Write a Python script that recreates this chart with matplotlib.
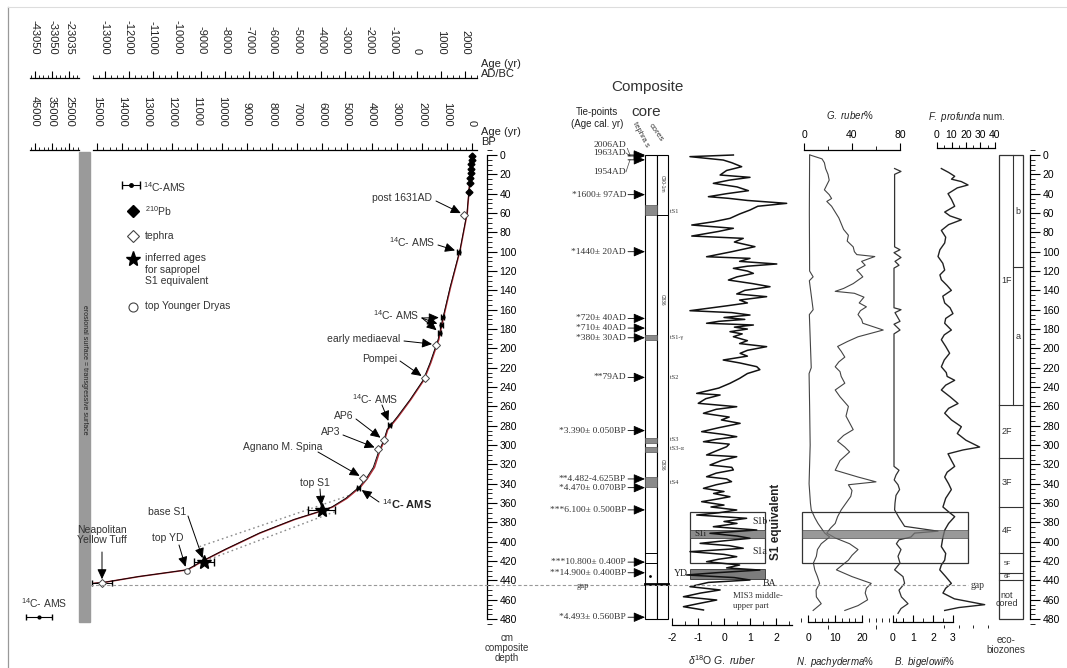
import matplotlib
matplotlib.use("Agg")
import matplotlib.pyplot as plt
from matplotlib.patches import Rectangle
from matplotlib.ticker import MultipleLocator, FixedLocator

plt.rcParams["font.family"] = ["Liberation Sans", "DejaVu Sans"]
plt.rcParams["axes.unicode_minus"] = False
plt.rcParams["mathtext.fontset"] = "custom"
plt.rcParams["mathtext.rm"] = "Liberation Sans"
plt.rcParams["mathtext.it"] = "Liberation Sans:italic"

W, H = 1067, 668
Y0, SCALE = 155.0, 0.967   # depth 0 cm at y=155 px, px per cm
SERIF = ["Liberation Serif", "DejaVu Serif"]

# ---------------- age-depth model (age BP, composite depth cm) ----------------
curve_age = [0, 200, 480, 880, 1160, 1360, 1680, 1960, 2480, 3000, 3400, 3530, 3740, 3950,
             4220, 4500, 5050, 5610, 6020, 7130, 8510, 9890, 10720, 11410, 13350, 14730, 15150]
red_age = [0, 190, 470, 860, 1140, 1330, 1650, 1930, 2450, 2960, 3370, 3500, 3700, 3900,
           4170, 4450, 5000, 5570, 6000, 7100, 8480, 9860, 10700, 11380, 13330, 14720, 15150]
curve_depth = [0, 60, 98, 137, 168, 191, 215, 233, 253, 271, 284, 295, 307, 323,
               334, 343, 355, 364, 368, 377, 391, 408, 419, 429, 436, 442, 443]
env_upper_age = [10900, 4900]
env_upper_depth = [405, 352]
env_lower_age = [10500, 5400]
env_lower_depth = [418, 368]

pb_age = [0, 10, 20, 35, 50, 65, 80, 100]
pb_depth = [1, 5, 9, 14, 19, 24, 29, 38]
tephra_age = [300, 1430, 1880, 3530, 3740, 4350, 14800]
tephra_depth = [62, 196, 231, 295, 304, 334, 443]
c14_age = [520, 1160, 1230, 1290, 3280, 4550]
c14_depth = [100, 168, 176, 184, 279, 344]
c14_err = [60, 60, 60, 60, 60, 70]
s1_age = [6020, 10720]
s1_depth = [367, 421]
s1_err = [550, 400]
yd_age = [11410]
yd_depth = [430]
nyt_age = [14800]
nyt_depth = [443]
nyt_err = [400]
gap_depth = 445

# ---------------- composite core ----------------
tie_labels = ["2006AD", "1963AD", "1954AD", "*1600\u00b1 97AD", "*1440\u00b1 20AD",
              "*720\u00b1 40AD", "*710\u00b1 40AD", "*380\u00b1 30AD", "**79AD",
              "*3.390\u00b1 0.050BP", "**4.482-4.625BP", "*4.470\u00b1 0.070BP",
              "***6.100\u00b1 0.500BP", "***10.800\u00b1 0.400P", "**14.900\u00b1 0.400BP",
              "*4.493\u00b1 0.560BP"]
tie_depth = [0, 1, 5, 41, 100, 169, 179, 189, 230, 285, 335, 344, 367, 421, 432, 478]
tephra_band_top = [52, 186, 293, 302, 333]
tephra_band_bottom = [62, 191, 298, 307, 343]
tephra_names = ["tS1", "tS1-\u03b3", "tS2", "tS3", "tS3-\u03b1", "tS4"]
tephra_name_depth = [58, 189, 230, 294, 304, 339]

# ---------------- proxy records (depth cm, value) ----------------
o18_depth = [0, 1.7, 5.2, 8, 12.1, 16, 20.7, 23.1, 26, 29.3,
             33, 36.9, 40, 43.1, 44.8, 47, 50, 53, 56.9, 61,
             65.5, 69, 72.4, 75.8, 79, 83.8, 86.2, 90, 94.8, 100,
             105.2, 106.9, 110, 112.7, 115, 117.2, 120, 122.4, 126, 129.3,
             133, 136.2, 140, 143.7, 146.5, 150, 153, 156, 161, 163,
             165.5, 168, 170, 172, 174, 175.8, 178, 180, 182.7, 185,
             187.9, 192, 195, 198.2, 202, 205.1, 208, 212, 215, 218.9,
             222, 226, 231, 236.1, 241, 246.5, 248.2, 252, 256.8, 260.3,
             263, 267.1, 271, 274, 277.5, 282, 286.1, 289, 291.3, 294,
             296.5, 299, 301.7, 306, 310.2, 312, 316, 320.6, 323, 325.7,
             329, 332.7, 335, 337.8, 341, 344.7, 348, 350, 353.4, 356,
             358.5, 362, 364, 367.1, 370, 372.3, 375.7, 379, 381, 384.4,
             387.8, 391.2, 394, 396.4, 399, 401.6, 404, 406.7, 410.2, 413,
             415.4, 418, 420.6, 424, 427, 429.2, 432, 434.3, 437, 439.5,
             442, 446.4, 449.8, 453, 456.8, 460.2, 464, 467.1, 470.5]
o18_value = [0.36, -1.31, -0.03, 0.3, 0.68, 0.1, -0.15, 1.0, 0.2, -0.41,
             0.5, 0.94, 0.1, -0.60, 0.17, 0.9, 2.41, 1.3, 1.0, 0.6,
             0.23, -0.4, -1.24, 0.36, -0.2, -1.24, 0.74, 0.4, 1.19, 0.3,
             -0.67, 1.0, 0.6, 2.03, 0.9, 0.36, 0.9, 1.13, 0.5, 0.17,
             1.1, 1.77, 0.8, 0.49, 1.64, 0.6, 0.9, 0.1, -1.31, 0.3,
             1.0, 0.0, 0.8, -0.2, -0.67, 1.13, 0.4, 0.9, 0.23, 0.7,
             0.36, 0.9, 0.6, 1.64, 0.9, 0.62, 0.9, -0.03, 0.6, 1.26,
             1.38, 0.9, 0.6, 0.23, -0.2, -1.05, -0.15, -0.7, -0.99, 0.49,
             -0.3, -0.79, 0.2, -0.1, 0.62, -0.2, -0.86, 0.0, 0.49, -0.3,
             -0.79, 0.2, 0.10, -0.3, -0.67, 0.49, -0.1, -0.54, 0.3, 0.36,
             -0.3, -0.67, 0.1, 0.29, -0.3, -0.79, 0.0, -0.4, 0.23, -0.3,
             -0.86, 0.0, -0.5, 0.49, -0.2, -1.05, 0.87, 0.0, 0.5, -0.41,
             1.26, -0.54, 0.5, 1.0, 0.0, -0.92, 0.2, 0.74, -1.31, 0.0,
             0.49, -0.2, -0.67, 0.6, 0.1, 1.38, -0.3, -1.44, 0.4, 1.0,
             -0.6, -1.31, -0.15, -0.9, -1.56, -0.28, -1.0, -1.56, -0.79]

gruber_depth = [0, 4, 8, 14, 20, 26, 31, 36, 41, 45,
                48, 53, 59, 65, 71, 77, 83, 89, 95, 100,
                103, 105, 110, 114, 119, 123, 126, 133, 138, 141,
                143, 147, 153, 157, 161, 165, 170, 174, 181, 188,
                193, 198, 203, 209, 214, 219, 224, 229, 236, 243,
                250, 260, 270, 284, 290, 296, 302, 307, 316, 326,
                333, 338, 341, 347, 353, 360, 367, 374, 381, 386,
                391, 396, 402, 408, 414, 419, 424, 429, 436, 443,
                448, 453, 460, 466, 471]
gruber_value = [5, 15, 17, 18, 20, 21, 19, 17, 21, 23,
                19, 23, 26, 29, 31, 33, 37, 36, 41, 42,
                44, 59, 48, 51, 44, 47, 49, 41, 33, 26,
                42, 50, 46, 52, 47, 45, 48, 49, 66, 45,
                36, 28, 31, 34, 29, 26, 30, 31, 34, 26,
                30, 37, 35, 41, 33, 28, 34, 38, 30, 26,
                45, 60, 37, 40, 39, 35, 31, 28, 26, 22,
                19, 26, 38, 45, 40, 37, 32, 27, 40, 56,
                52, 51, 53, 45, 34]

npachy_depth = [0, 60, 120, 126, 130, 160, 165, 220, 226, 260, 300, 340, 360, 367, 375,
                381, 391, 395, 402, 408, 415, 422, 429, 436, 443, 450, 457, 464, 471]
npachy_value = [0.6, 0.5, 0.6, 1.9, 0.5, 1.9, 0.5, 1.2, 0.4, 0.6, 0.8, 0.4, 0.9, 1.2, 2.5,
                3.7, 6.2, 8.0, 4.9, 3.5, 3.1, 2.0, 2.5, 3.5, 4.3, 3.0, 3.1, 4.9, 1.9]

bbig_depth = [14, 17, 20, 95, 98, 101, 106, 110, 114, 117,
              158, 160, 163, 172, 175, 181, 185, 322, 326, 331,
              336, 341, 346, 352, 360, 367, 375, 384, 389, 391,
              395, 398, 402, 408, 415, 422, 429, 436, 443, 450,
              457, 464, 469, 474]
bbig_value = [0.08, 0.4, 0.08, 0.08, 0.35, 0.05, 0.4, 0.1, 0.3, 0.05,
              0.05, 0.4, 0.1, 0.35, 0.05, 0.35, 0.05, 0.05, 0.3, 0.15,
              0.06, 0.25, 0.33, 0.15, 0.1, 0.08, 0.3, 0.58, 2.25, 1.08,
              0.9, 0.3, 0.17, 0.4, 0.25, 0.35, 0.08, 0.5, 0.58, 0.3,
              0.42, 0.75, 0.4, 0.25]

fprof_depth = [14, 18, 22, 25, 27.5, 31, 34, 40, 46, 53,
               59, 63, 67, 72, 78, 85, 91, 98, 105, 112,
               119, 124, 129, 135, 140, 146, 153, 158, 164, 169,
               174, 181, 186, 191, 198, 205, 212, 219, 225, 229,
               233, 238, 243, 250, 257, 262, 267, 274, 281, 288,
               295, 302, 305, 309, 316, 322, 328, 333, 340, 346,
               355, 364, 369, 374, 381, 388, 396, 405, 412, 419,
               424, 429, 436, 443, 448, 453, 459, 465, 468, 471]
fprof_value = [3, 8, 12.2, 10, 16.8, 21.4, 14, 7.6, 10, 12.2,
               5.3, 9, 16.8, 8, 3, 6, 5.3, 2, 0.7, 4,
               5.3, 2, 3, 7, 9.9, 4, 5.3, 9, 11, 6,
               5.3, 9.9, 5, 3, 6, 8.7, 5, 3, 6.4, 7,
               12.2, 6, 3, 9, 14.5, 8, 5.3, 10, 16.8, 14,
               20, 29.4, 18, 7.6, 10, 12.2, 7, 5.3, 8, 9.9,
               6, 4.1, 8, 12.2, 8, 5.3, 4, 3, 6, 5.3,
               3, 1.9, 6, 9.9, 6, 4.1, 12, 32.9, 15, 5.3]

# S1 sapropel equivalent and Younger Dryas intervals (depth cm)
s1_top, s1_bottom = 369, 422
s1i_top, s1i_bottom = 388, 396
yd_top, yd_bottom = 428, 438

# eco-biozones
eco_bounds = [0, 259, 313, 364, 412, 432, 440, 480]
eco_labels = ["1F", "2F", "3F", "4F", "5F", "6F", "not\ncored"]
sub_bounds = [0, 116, 259]
sub_labels = ["b", "a"]


def dy(d):
    return Y0 + SCALE * d


def px_axes(fig, x0, y0, x1, y1):
    return fig.add_axes([x0 / W, 1 - y1 / H, (x1 - x0) / W, (y1 - y0) / H])


def depth_axes(fig, x0, x1, v_ref, p_ref, px_per_unit, y0=148, y1=625):
    ax = px_axes(fig, x0, y0, x1, y1)
    ax.set_xlim(v_ref + (x0 - p_ref) / px_per_unit, v_ref + (x1 - p_ref) / px_per_unit)
    ax.set_ylim((y1 - Y0) / SCALE, (y0 - Y0) / SCALE)
    ax.patch.set_visible(False)
    for s in ax.spines.values():
        s.set_visible(False)
    ax.tick_params(bottom=False, labelbottom=False, left=False, labelleft=False)
    return ax


def scale_bar(fig, x0, x1, ybase, v_ref, p_ref, px_per_unit, major, labels, minor):
    ax = px_axes(fig, x0, ybase, x1, ybase + 10)
    ax.set_xlim(v_ref + (x0 - p_ref) / px_per_unit, v_ref + (x1 - p_ref) / px_per_unit)
    ax.patch.set_visible(False)
    for side in ["left", "right", "bottom"]:
        ax.spines[side].set_visible(False)
    ax.spines["top"].set_linewidth(0.9)
    ax.set_yticks([])
    ax.xaxis.tick_top()
    ax.set_xticks(major, labels=labels)
    ax.xaxis.set_minor_locator(FixedLocator(minor))
    ax.tick_params(axis="x", which="major", direction="out", length=5, width=0.8,
                   pad=12, labelsize=8, labelrotation=-90, labelcolor="#222")
    ax.tick_params(axis="x", which="minor", direction="out", length=2.5, width=0.6)
    return ax


def depth_scale(fig, x, y0=148, y1=625):
    ax = px_axes(fig, x - 1, y0, x, y1)
    ax.set_ylim((y1 - Y0) / SCALE, (y0 - Y0) / SCALE)
    ax.patch.set_visible(False)
    for side in ["left", "top", "bottom"]:
        ax.spines[side].set_visible(False)
    ax.spines["right"].set_bounds(0, 480)
    ax.spines["right"].set_linewidth(0.9)
    ax.set_xticks([])
    ax.yaxis.tick_right()
    ax.yaxis.set_major_locator(MultipleLocator(20))
    ax.yaxis.set_minor_locator(MultipleLocator(5))
    ax.tick_params(axis="y", which="major", direction="out", length=7, width=0.8,
                   pad=2, labelsize=7.5)
    ax.tick_params(axis="y", which="minor", direction="out", length=3.5, width=0.6)
    return ax


def main():
    fig = plt.figure(figsize=(W / 100, H / 100), dpi=100)
    fig.patch.set_facecolor("white")

    # ---- age scales on top ----
    scale_bar(fig, 93, 477, 78, -13000, 105, 0.024,
              list(range(-13000, 2001, 1000)), [str(v) for v in range(-13000, 2001, 1000)],
              list(range(-13500, 2501, 250)))
    scale_bar(fig, 30, 79, 78, -43050, 35, 0.0017,
              [-43050, -33050, -23035], ["-43050", "-33050", "-23035"],
              list(range(-45550, -17000, 2500)))
    scale_bar(fig, 93, 477, 150, 0, 472, -0.025,
              list(range(0, 15001, 1000)), [str(v) for v in range(0, 15001, 1000)],
              list(range(-250, 15250, 250)))
    scale_bar(fig, 30, 79, 150, 45000, 35, -0.0017,
              [45000, 35000, 25000], ["45000", "35000", "25000"],
              list(range(47500, 19000, -2500)))

    # ---- age-depth plot ----
    ax_ad = depth_axes(fig, 88, 487, 0, 472, -0.025, y0=150)
    ax_ad.plot(env_upper_age, env_upper_depth, ls=(0, (1.2, 2.2)), color="#8a8a8a", lw=1.0)
    ax_ad.plot(env_lower_age, env_lower_depth, ls=(0, (1.2, 2.2)), color="#8a8a8a", lw=1.0)
    ax_ad.plot(red_age, curve_depth, color="#b0303a", lw=1.1, zorder=2)
    ax_ad.plot(curve_age, curve_depth, color="k", lw=0.6, zorder=3)
    ax_ad.plot(pb_age, pb_depth, "D", ms=3.5, color="k", zorder=4)
    ax_ad.errorbar(c14_age, c14_depth, xerr=c14_err, fmt="o", ms=2, color="k",
                   elinewidth=0.7, capsize=2, zorder=4)
    ax_ad.errorbar(nyt_age, nyt_depth, xerr=nyt_err, fmt="none", ecolor="k",
                   elinewidth=0.7, capsize=2.5, zorder=4)
    ax_ad.plot(tephra_age, tephra_depth, "D", ms=4, mfc="white", mec="#444", mew=0.7, zorder=5)
    ax_ad.errorbar(s1_age, s1_depth, xerr=s1_err, fmt="*", ms=10, color="k",
                   elinewidth=0.8, capsize=3, zorder=5)
    ax_ad.plot(yd_age, yd_depth, "o", ms=4, mfc="white", mec="#444", mew=0.7, zorder=5)
    depth_scale(fig, 487)

    # ---- composite core ----
    ax_c = depth_axes(fig, 540, 690, 0, 0, 1)
    ax_c.add_patch(Rectangle((645, 0), 12, 480, fc="white", ec="k", lw=0.8))
    ax_c.add_patch(Rectangle((657, 0), 11, 480, fc="white", ec="k", lw=0.8))
    for t, b in zip(tephra_band_top, tephra_band_bottom):
        ax_c.add_patch(Rectangle((645, t), 12, b - t, fc="#8a8a8a", ec="#555", lw=0.5))
    ax_c.plot([657, 668], [62, 62], color="k", lw=0.7)
    ax_c.plot([645, 657], [412, 412], color="k", lw=0.7)
    ax_c.plot([645, 657], [422, 422], color="k", lw=0.7)
    ax_c.plot([650], [435], "o", ms=1, color="k")
    ax_c.plot([645, 668], [gap_depth - 1.5, gap_depth - 1.5], color="k", lw=2)
    for name, d in zip(tephra_names, tephra_name_depth):
        ax_c.text(670, d, name, fontsize=4.5, family=SERIF, va="center", color="#333")
    for txt, d in [("C90-1m", 30), ("C836", 150), ("C836", 320)]:
        ax_c.text(662.5, d, txt, fontsize=3.5, rotation=-90, ha="center", va="center", color="#333")
    text_shift = [-10, -3, 12] + [0] * (len(tie_depth) - 3)
    for lab, d, s in zip(tie_labels, tie_depth, text_shift):
        ax_c.annotate("", xy=(645, d), xytext=(628, d),
                      arrowprops=dict(arrowstyle="-|>,head_length=0.7,head_width=0.3",
                                      color="k", lw=0.6, shrinkA=0, shrinkB=0))
        ax_c.text(626, d + s / SCALE, lab, fontsize=6.8, family=SERIF, ha="right",
                  va="center", color="#333")
        if s != 0:
            ax_c.plot([626, 630], [d + s / SCALE, d], color="#444", lw=0.5)

    # ---- d18O G. ruber ----
    ax_o = depth_axes(fig, 660, 800, 0, 724, 26)
    ax_o.add_patch(Rectangle((-1.31, s1_top), 2.89, s1_bottom - s1_top, fill=False, ec="#333", lw=0.9, zorder=1))
    ax_o.add_patch(Rectangle((-1.31, s1i_top), 2.89, s1i_bottom - s1i_top, fc="#8c8c8c", ec="#444", lw=0.6, zorder=1))
    ax_o.add_patch(Rectangle((-1.31, yd_top), 2.89, yd_bottom - yd_top, fc="#7d7d7d", ec="#333", lw=0.6, zorder=1))
    ax_o.plot(o18_value, o18_depth, color="#111", lw=1.1, zorder=2)
    ax_o.spines["bottom"].set_visible(True)
    ax_o.spines["bottom"].set_bounds(-2, 2.6)
    ax_o.spines["bottom"].set_linewidth(0.9)
    ax_o.set_xticks([-2, -1, 0, 1, 2])
    ax_o.xaxis.set_minor_locator(MultipleLocator(0.5))
    ax_o.tick_params(axis="x", which="major", bottom=True, labelbottom=True, direction="in",
                     length=5, width=0.8, pad=6, labelsize=7.5)
    ax_o.tick_params(axis="x", which="minor", bottom=True, direction="in", length=3, width=0.6)

    # ---- G. ruber / N. pachyderma ----
    ax_g = depth_axes(fig, 798, 905, 0, 804, 1.2, y0=150)
    ax_g.plot(gruber_value, gruber_depth, color="#444", lw=0.8)
    ax_g.spines["top"].set_visible(True)
    ax_g.spines["top"].set_bounds(0, 80)
    ax_g.spines["top"].set_linewidth(0.9)
    ax_g.set_xticks([0, 40, 80])
    ax_g.xaxis.set_minor_locator(FixedLocator([20, 60]))
    ax_g.tick_params(axis="x", which="major", top=True, labeltop=True, direction="out",
                     length=5, width=0.8, pad=2, labelsize=7.5)
    ax_g.tick_params(axis="x", which="minor", top=True, direction="out", length=3, width=0.6)

    ax_n = depth_axes(fig, 798, 905, 0, 808, 2.7, y1=622)
    ax_n.plot(npachy_value, npachy_depth, color="#444", lw=0.8)
    ax_n.spines["bottom"].set_visible(True)
    ax_n.spines["bottom"].set_bounds(0, 20)
    ax_n.spines["bottom"].set_linewidth(0.9)
    ax_n.set_xticks([0, 10, 20])
    ax_n.xaxis.set_minor_locator(MultipleLocator(2.5))
    ax_n.tick_params(axis="x", which="major", bottom=True, labelbottom=True, direction="in",
                     length=5, width=0.8, pad=8, labelsize=7.5)
    ax_n.tick_params(axis="x", which="minor", bottom=True, direction="in", length=3, width=0.6)

    # ---- B. bigelowii ----
    ax_b = depth_axes(fig, 885, 960, 0, 893, 20, y1=622)
    ax_b.plot(bbig_value, bbig_depth, color="#333", lw=0.9)
    ax_b.spines["bottom"].set_visible(True)
    ax_b.spines["bottom"].set_bounds(0, 3)
    ax_b.spines["bottom"].set_linewidth(0.9)
    ax_b.set_xticks([0, 1, 2, 3])
    ax_b.xaxis.set_minor_locator(MultipleLocator(0.5))
    ax_b.tick_params(axis="x", which="major", bottom=True, labelbottom=True, direction="in",
                     length=5, width=0.8, pad=8, labelsize=7.5)
    ax_b.tick_params(axis="x", which="minor", bottom=True, direction="in", length=3, width=0.6)

    # ---- F. profunda ----
    ax_f = depth_axes(fig, 930, 1000, 0, 937, 1.45, y0=148)
    ax_f.plot(fprof_value, fprof_depth, color="#222", lw=1.0)
    ax_f.spines["top"].set_visible(True)
    ax_f.spines["top"].set_bounds(0, 40)
    ax_f.spines["top"].set_linewidth(0.9)
    ax_f.set_xticks([0, 10, 20, 30, 40])
    ax_f.xaxis.set_minor_locator(MultipleLocator(5))
    ax_f.tick_params(axis="x", which="major", top=True, labeltop=True, direction="out",
                     length=4, width=0.8, pad=2, labelsize=7.5)
    ax_f.tick_params(axis="x", which="minor", top=True, direction="out", length=2, width=0.6)

    # ---- eco-biozones ----
    ax_e = depth_axes(fig, 990, 1028, 0, 0, 1)
    ax_e.add_patch(Rectangle((999, 0), 24, 480, fill=False, ec="#333", lw=0.9))
    for b in eco_bounds[1:-1]:
        ax_e.plot([999, 1023], [b, b], color="#333", lw=0.8)
    for lab, a, b in zip(eco_labels, eco_bounds[:-1], eco_bounds[1:]):
        fs = 4.5 if b - a < 25 else 6.5
        ax_e.text(1007, (a + b) / 2, lab, fontsize=fs, ha="center", va="center",
                  linespacing=0.9, color="#333")
    ax_e.plot([1013, 1013], [sub_bounds[0], sub_bounds[-1]], color="#333", lw=0.8)
    for b in sub_bounds[1:-1]:
        ax_e.plot([1013, 1023], [b, b], color="#333", lw=0.8)
    for lab, a, b in zip(sub_labels, sub_bounds[:-1], sub_bounds[1:]):
        ax_e.text(1018, (a + b) / 2, lab, fontsize=6.5, ha="center", va="center", color="#333")
    depth_scale(fig, 1030)

    # ---- overlay: frame, labels, legend, annotations ----
    ov = fig.add_axes([0, 0, 1, 1], zorder=10)
    ov.set_xlim(0, W)
    ov.set_ylim(H, 0)
    ov.axis("off")
    ov.plot([8, 8], [7, H], color="#999", lw=0.9)
    ov.plot([8, W], [7, 7], color="#ddd", lw=0.8)

    ov.add_patch(Rectangle((79, 152), 11, 470, color="#9a9a9a", zorder=0))
    ov.text(84.5, 370, "erosional surface = transgressive surface", rotation=-90, fontsize=5,
            color="#222", ha="center", va="center")
    ov.text(481, 69, "Age (yr)\nAD/BC", fontsize=8, va="center", linespacing=1.0, color="#222")
    ov.text(481, 137, "Age (yr)\nBP", fontsize=8, va="center", linespacing=1.0, color="#222")
    ov.text(507, 648, "cm\ncomposite\ndepth", fontsize=7, ha="center", va="center",
            linespacing=1.05, color="#333")

    # legend
    ov.errorbar([131], [185], xerr=[9], fmt="o", ms=2.5, color="k", elinewidth=0.8, capsize=3)
    ov.text(143, 187, r"$^{14}$C-AMS", fontsize=7.5, va="center", color="#333")
    ov.plot([133], [211], "D", ms=6.5, color="k")
    ov.text(145, 211, r"$^{210}$Pb", fontsize=7.5, va="center", color="#333")
    ov.plot([133], [236], "D", ms=6.5, mfc="white", mec="#444", mew=0.8)
    ov.text(145, 236, "tephra", fontsize=7.5, va="center", color="#333")
    ov.plot([133], [259], "*", ms=11, color="k")
    ov.text(145, 253, "inferred ages\nfor sapropel\nS1 equivalent", fontsize=7.5, va="top",
            linespacing=1.2, color="#333")
    ov.plot([133], [307], "o", ms=6.5, mfc="white", mec="#444", mew=0.8)
    ov.text(145, 306, "top Younger Dryas", fontsize=7.5, va="center", color="#333")
    ov.text(21, 603, r"$^{14}$C- AMS", fontsize=7.5, va="center", color="#333")
    ov.errorbar([39], [617], xerr=[13], fmt="o", ms=2, color="k", elinewidth=0.8, capsize=2.5)

    arrow = dict(arrowstyle="-|>,head_length=0.6,head_width=0.28", color="k", lw=0.7,
                 shrinkA=0, shrinkB=3)
    notes = [
        ("post 1631AD", 432, 198, "right", (436, 201), tephra_age[0], tephra_depth[0]),
        (r"$^{14}$C- AMS", 435, 242, "right", (438, 245), c14_age[0], c14_depth[0]),
        ("early mediaeval", 400, 339, "right", (404, 341), tephra_age[1], tephra_depth[1]),
        ("Pompei", 397, 359, "right", (400, 361), tephra_age[2], tephra_depth[2]),
        (r"$^{14}$C- AMS", 398, 399, "right", (382, 405), c14_age[4], c14_depth[4]),
        ("AP6", 353, 416, "right", (356, 419), tephra_age[3], tephra_depth[3]),
        ("AP3", 340, 432, "right", (343, 435), tephra_age[4], tephra_depth[4]),
        ("Agnano M. Spina", 322, 447, "right", (318, 452), tephra_age[5], tephra_depth[5]),
        ("top S1", 315, 483, "center", (320, 489), s1_age[0], s1_depth[0]),
        ("base S1", 167, 512, "center", (188, 516), s1_age[1], s1_depth[1]),
        ("top YD", 168, 538, "center", (179, 545), yd_age[0], yd_depth[0]),
        ("Neapolitan\nYellow Tuff", 102, 535, "center", (102, 552), nyt_age[0], nyt_depth[0]),
    ]
    for txt, tx, ty, ha, start, a, d in notes:
        ov.text(tx, ty, txt, fontsize=7.5, ha=ha, va="center", color="#333", linespacing=1.1)
        ax_ad.annotate("", xy=(a, d), xytext=start, textcoords=ov.transData, arrowprops=arrow)
    ov.text(373, 315, r"$^{14}$C- AMS", fontsize=7.5, va="center", color="#333")
    for a, d in zip(c14_age[1:4], c14_depth[1:4]):
        ax_ad.annotate("", xy=(a, d), xytext=(422, 318), textcoords=ov.transData, arrowprops=arrow)
    ov.text(382, 504, r"$^{14}$C- AMS", fontsize=8, fontweight="bold", va="center", color="#222")
    ax_ad.annotate("", xy=(c14_age[5], c14_depth[5]), xytext=(379, 502), textcoords=ov.transData,
                   arrowprops=arrow)

    # gap line and right-hand panel labels
    ov.plot([90, 968], [dy(gap_depth), dy(gap_depth)], ls=(0, (3, 2)), color="#999", lw=0.8)
    ov.text(971, dy(gap_depth), "gap", fontsize=7, family=SERIF, va="center", color="#333")
    ov.text(583, dy(gap_depth) + 1, "gap", fontsize=6.3, family=SERIF, va="center",
            ha="center", color="#333")
    ov.add_patch(Rectangle((802, dy(s1_top)), 166, dy(s1_bottom) - dy(s1_top),
                           fill=False, ec="#333", lw=0.9))
    ov.add_patch(Rectangle((802, dy(s1i_top)), 166, dy(s1i_bottom) - dy(s1i_top),
                           fc="#777", ec="#444", lw=0.6, alpha=0.75))

    ov.text(647, 87, "Composite", fontsize=11, ha="center", va="center", color="#333")
    ov.text(646, 112, "core", fontsize=11, ha="center", va="center", color="#333")
    ov.text(597, 118, "Tie-points\n(Age cal. yr)", fontsize=7, ha="center", va="center",
            linespacing=1.15, color="#222")
    ov.text(641, 135, "tephra s", fontsize=5.5, rotation=-62, ha="center", va="center", color="#333")
    ov.text(656, 133, "cores", fontsize=6, rotation=-55, ha="center", va="center", color="#333")

    ov.text(752, 521, "S1b", fontsize=7, family=SERIF, va="center", color="#222")
    ov.text(752, 552, "S1a", fontsize=7, family=SERIF, va="center", color="#222")
    ov.text(694, 534, "S1i", fontsize=6.5, family=SERIF, va="center", color="#222")
    ov.text(688, 574, "YD", fontsize=7, family=SERIF, ha="right", va="center", color="#222")
    ov.text(763, 584, "BA", fontsize=7, family=SERIF, va="center", color="#222")
    ov.text(733, 601, "MIS3 middle-\nupper part", fontsize=6.3, family=SERIF, va="center",
            linespacing=1.4, color="#333")
    ov.text(776, 522, "S1 equivalent", fontsize=8.5, fontweight="bold", rotation=90,
            ha="center", va="center", color="#222")

    ov.text(722, 660, r"$\delta^{18}$O $\mathit{G.\ ruber}$", fontsize=7.5, ha="center",
            va="center", color="#222")
    ov.text(850, 115, r"$\mathit{G.\ ruber}$%", fontsize=7, ha="center", va="center", color="#222")
    ov.text(966, 117, r"$\mathit{F.\ profunda}$ num.", fontsize=7, ha="center", va="center",
            color="#222")
    ov.text(835, 662, r"$\mathit{N.\ pachyderma}$%", fontsize=7, ha="center", va="center",
            color="#222")
    ov.text(925, 662, r"$\mathit{B.\ bigelowii}$%", fontsize=7, ha="center", va="center",
            color="#222")
    ov.text(1006, 645, "eco-\nbiozones", fontsize=7, ha="center", va="center",
            linespacing=1.05, color="#333")

    fig.savefig("out.png", dpi=100)
    plt.close(fig)


if __name__ == "__main__":
    main()
